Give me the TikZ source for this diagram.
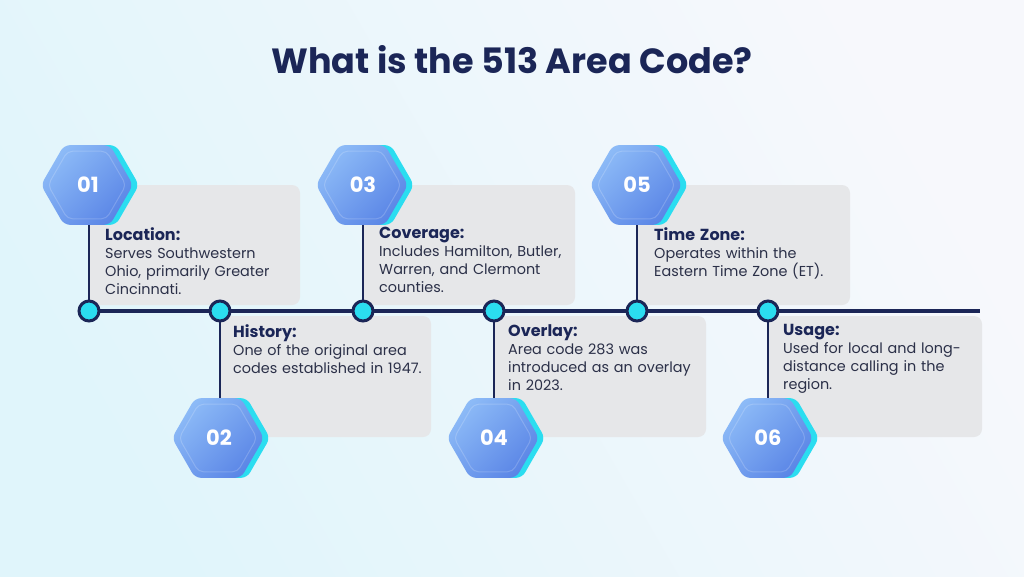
\documentclass[tikz,border=0pt]{standalone}
\usepackage{fontspec}
\setmainfont{Poppins}
\usetikzlibrary{shapes.geometric}
\definecolor{navy}{HTML}{1B2657}
\definecolor{bodyc}{HTML}{2B3048}
\definecolor{boxc}{HTML}{E6E7E9}
\definecolor{cyanc}{HTML}{2BDDF0}
\definecolor{hexl}{HTML}{8DBBF7}
\definecolor{hexd}{HTML}{5A85E6}
\definecolor{bgl}{HTML}{E0F5FB}
\definecolor{bgr}{HTML}{F7F8FC}
\tikzset{
  x=1pt,y=-1pt,
  infobox/.style={fill=boxc,rounded corners=8pt,draw=none},
  hexback/.style={regular polygon,regular polygon sides=6,minimum size=92pt,inner sep=0pt,fill=cyanc,rounded corners=6pt,draw=none},
  hexfront/.style={regular polygon,regular polygon sides=6,minimum size=92pt,inner sep=0pt,rounded corners=6pt,draw=none,
     left color=hexl,right color=hexd,shading angle=45},
  hexinner/.style={regular polygon,regular polygon sides=6,minimum size=78pt,inner sep=0pt,rounded corners=5pt,draw=white,draw opacity=0.18,line width=1pt},
  hexnum/.style={text=white,font=\fontsize{21}{21}\selectfont\bfseries},
  dot/.style={circle,minimum size=20pt,inner sep=0pt,fill=cyanc,draw=navy,line width=3pt},
  stem/.style={draw=navy,line width=2.5pt},
  tline/.style={draw=navy,line width=4.5pt},
  info/.style={anchor=north west,align=left,inner sep=0pt,text=bodyc,
     font=\fontsize{14.4}{18}\selectfont,text width=200pt},
}
\newcommand{\hd}[1]{{\fontsize{16}{18}\selectfont\bfseries\color{navy}#1}}
\begin{document}
\begin{tikzpicture}
\useasboundingbox (0,0) rectangle (1024,576);
\shade[left color=bgr,right color=bgl,shading angle=-60] (0,0) rectangle (1024,576);

\node[font=\fontsize{35}{38}\selectfont\bfseries,text=navy] (title) at (512,60) {What is the 513 Area Code?};

% boxes
\fill[infobox] (89,185) rectangle (300,305);
\fill[infobox] (363,185) rectangle (575,305);
\fill[infobox] (637,185) rectangle (850,305);
\fill[infobox] (220,316) rectangle (431,437);
\fill[infobox] (494,316) rectangle (706,437);
\fill[infobox] (768,316) rectangle (982,437);

% dots positions
\coordinate (d1) at (89,311);
\coordinate (d2) at (220,311);
\coordinate (d3) at (363,311);
\coordinate (d4) at (494,311);
\coordinate (d5) at (637,311);
\coordinate (d6) at (768,311);
\coordinate (lend) at (980,311);
\draw[tline] (d1) -- (lend);

% stems
\draw[stem] (89,215) -- (d1);
\draw[stem] (363,215) -- (d3);
\draw[stem] (637,215) -- (d5);
\draw[stem] (d2) -- (220,410);
\draw[stem] (d4) -- (494,410);
\draw[stem] (d6) -- (768,410);

% hexagons
\foreach \n/\x/\y in {01/87/185,02/218/438,03/362/185,04/493/438,05/636/185,06/767/438}{
  \node[hexback] (hb\n) at (\x+6,\y) {};
  \node[hexfront] (h\n) at (\x,\y) {};
  \node[hexinner] (hi\n) at (\x,\y) {};
  \node[hexnum] (ht\n) at (\x+1,\y) {\n};
}

% dots
\foreach \i in {1,...,6}{\node[dot] (dot\i) at (d\i) {};}

% texts
\node[info] (t1) at (105,227) {\hd{Location:}\\Serves Southwestern\\Ohio, primarily Greater\\Cincinnati.};
\node[info] (t3) at (379,227) {\hd{Coverage:}\\Includes Hamilton, Butler,\\Warren, and Clermont\\counties.};
\node[info] (t5) at (654,227) {\hd{Time Zone:}\\Operates within the\\Eastern Time Zone (ET).};
\node[info] (t2) at (233,324) {\hd{History:}\\One of the original area\\codes established in 1947.};
\node[info] (t4) at (508,324) {\hd{Overlay:}\\Area code 283 was\\introduced as an overlay\\in 2023.};
\node[info] (t6) at (783,324) {\hd{Usage:}\\Used for local and long-\\distance calling in the\\region.};
\end{tikzpicture}
\end{document}
